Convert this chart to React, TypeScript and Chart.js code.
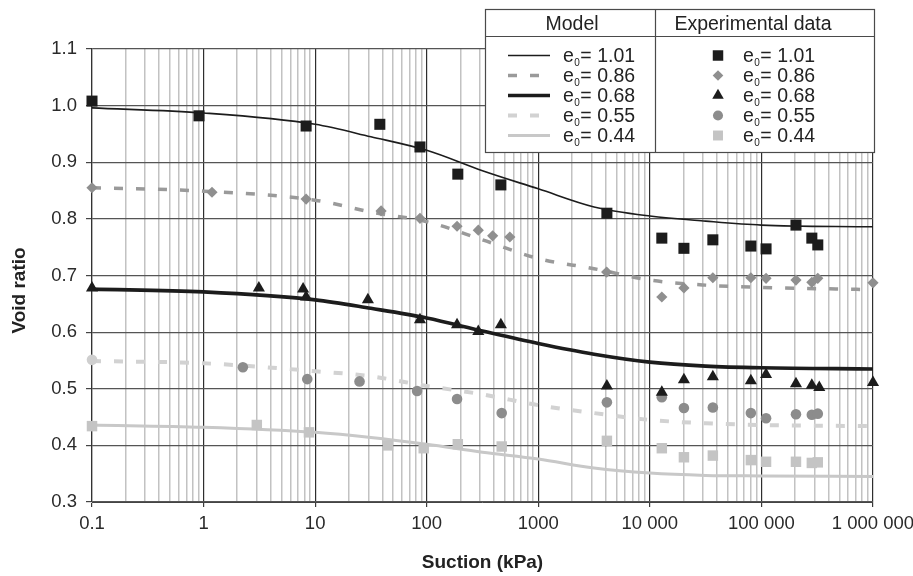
import React, { useEffect, useRef } from 'react';
import { Chart, registerables } from 'chart.js';

Chart.register(...registerables);

// ---------- data ----------
const initialVoidRatios = ['1.01', '0.86', '0.68', '0.55', '0.44'];

const modelSuction = [0.1, 1, 10, 31.6, 100, 316, 1000, 3162, 10000, 31623, 100000, 1000000];
const model101 = [0.996, 0.987, 0.967, 0.945, 0.921, 0.885, 0.853, 0.821, 0.805, 0.796, 0.789, 0.786];
const model086 = [0.855, 0.849, 0.833, 0.812, 0.795, 0.763, 0.730, 0.712, 0.692, 0.683, 0.679, 0.675];
const model068 = [0.676, 0.671, 0.657, 0.642, 0.625, 0.602, 0.580, 0.561, 0.547, 0.540, 0.537, 0.535];
const model055 = [0.549, 0.545, 0.531, 0.522, 0.505, 0.490, 0.471, 0.457, 0.445, 0.439, 0.436, 0.434];
const model044 = [0.436, 0.432, 0.423, 0.414, 0.402, 0.388, 0.376, 0.360, 0.351, 0.347, 0.346, 0.345];

const exp101X = [0.1, 0.91, 8.3, 38, 87, 190, 462, 4120, 12800, 20200, 36700, 80400, 110000, 204000, 283000, 320000];
const exp101Y = [1.008, 0.982, 0.964, 0.967, 0.927, 0.879, 0.86, 0.81, 0.766, 0.748, 0.763, 0.752, 0.747, 0.789, 0.766, 0.754];

const exp086X = [0.1, 1.19, 8.3, 39, 87, 187, 290, 390, 556, 4100, 12800, 20200, 36700, 80400, 110000, 204000, 283000, 320000, 1000000];
const exp086Y = [0.855, 0.847, 0.835, 0.814, 0.801, 0.787, 0.78, 0.77, 0.768, 0.706, 0.662, 0.678, 0.696, 0.696, 0.695, 0.692, 0.688, 0.695, 0.687];

const exp068X = [0.1, 3.13, 7.8, 8.3, 29.7, 87, 187, 290, 462, 4120, 12800, 20200, 36700, 80400, 110000, 204000, 283000, 330000, 1000000];
const exp068Y = [0.678, 0.678, 0.676, 0.662, 0.657, 0.622, 0.613, 0.601, 0.613, 0.505, 0.494, 0.516, 0.521, 0.514, 0.525, 0.509, 0.506, 0.502, 0.511];

const exp055X = [0.1, 2.25, 8.5, 25, 82, 187, 470, 4120, 12800, 20200, 36700, 80400, 110000, 204000, 283000, 320000];
const exp055Y = [0.551, 0.538, 0.517, 0.513, 0.496, 0.482, 0.457, 0.476, 0.485, 0.466, 0.467, 0.457, 0.448, 0.455, 0.454, 0.456];

const exp044X = [0.1, 3.0, 8.8, 45, 94, 190, 470, 4120, 12800, 20200, 36700, 80400, 110000, 204000, 283000, 320000];
const exp044Y = [0.434, 0.436, 0.423, 0.40, 0.395, 0.402, 0.398, 0.408, 0.395, 0.379, 0.382, 0.374, 0.371, 0.371, 0.369, 0.37];

const yTickValues = [0.3, 0.4, 0.5, 0.6, 0.7, 0.8, 0.9, 1.0, 1.1];

// ---------- styles ----------
const FONT = '"Liberation Sans", Arial, Helvetica, sans-serif';

const modelStyles = [
  { color: '#1c1c1c', width: 1.6, dash: [] as number[] },
  { color: '#9a9a9a', width: 3.5, dash: [9, 13] },
  { color: '#1c1c1c', width: 3.6, dash: [] as number[] },
  { color: '#d2d2d2', width: 4, dash: [9, 13] },
  { color: '#c8c8c8', width: 3, dash: [] as number[] },
];

const expStyles = [
  { shape: 'rect', color: '#1c1c1c', radius: 7.8 },
  { shape: 'rectRot', color: '#8f8f8f', radius: 5.6 },
  { shape: 'triangle', color: '#1c1c1c', radius: 7 },
  { shape: 'circle', color: '#8c8c8c', radius: 5.3 },
  { shape: 'rect', color: '#c4c4c4', radius: 7.4 },
];

const modelSeries = [model101, model086, model068, model055, model044];
const expSeries = [
  [exp101X, exp101Y],
  [exp086X, exp086Y],
  [exp068X, exp068Y],
  [exp055X, exp055Y],
  [exp044X, exp044Y],
];

function isMajor(v: number) {
  const l = Math.log10(v);
  return Math.abs(l - Math.round(l)) < 1e-6;
}

function fmtSuction(v: number) {
  if (v < 1) return String(Number(v.toPrecision(3)));
  const s = String(Math.round(v));
  if (s.length <= 4) return s;
  return s.replace(/\B(?=(\d{3})+(?!\d))/g, ' ');
}

function drawShape(ctx: CanvasRenderingContext2D, shape: string, x: number, y: number, r: number, color: string) {
  ctx.save();
  ctx.fillStyle = color;
  ctx.beginPath();
  if (shape === 'rect') {
    const s = Math.SQRT1_2 * r;
    ctx.rect(x - s, y - s, 2 * s, 2 * s);
  } else if (shape === 'rectRot') {
    ctx.moveTo(x, y - r);
    ctx.lineTo(x + r, y);
    ctx.lineTo(x, y + r);
    ctx.lineTo(x - r, y);
    ctx.closePath();
  } else if (shape === 'triangle') {
    let a = 0;
    ctx.moveTo(x + Math.sin(a) * r, y - Math.cos(a) * r);
    a += (2 * Math.PI) / 3;
    ctx.lineTo(x + Math.sin(a) * r, y - Math.cos(a) * r);
    a += (2 * Math.PI) / 3;
    ctx.lineTo(x + Math.sin(a) * r, y - Math.cos(a) * r);
    ctx.closePath();
  } else {
    ctx.arc(x, y, r, 0, Math.PI * 2);
  }
  ctx.fill();
  ctx.restore();
}

const overlayPlugin = {
  id: 'overlayPlugin',
  afterDraw(chart: any) {
    const ctx: CanvasRenderingContext2D = chart.ctx;
    const a = chart.chartArea;

    // y axis title
    ctx.save();
    ctx.translate(19.5, (a.top + a.bottom) / 2 + 15);
    ctx.rotate(-Math.PI / 2);
    ctx.font = `bold 19px ${FONT}`;
    ctx.fillStyle = '#222';
    ctx.textAlign = 'center';
    ctx.textBaseline = 'middle';
    ctx.fillText('Void ratio', 0, 0);
    ctx.restore();

    // legend table
    const R = a.right + 1;
    const L = R - 389;
    const T = a.top - 40;
    const B = T + 143;
    const H = T + 27;
    const C = L + 170;

    ctx.save();
    ctx.fillStyle = '#ffffff';
    ctx.fillRect(L, T, R - L, B - T);
    ctx.strokeStyle = '#4a4a4a';
    ctx.lineWidth = 1.2;
    ctx.strokeRect(L + 0.5, T + 0.5, R - L, B - T);
    ctx.beginPath();
    ctx.moveTo(L, H + 0.5);
    ctx.lineTo(R, H + 0.5);
    ctx.moveTo(C + 0.5, T);
    ctx.lineTo(C + 0.5, B);
    ctx.stroke();

    ctx.fillStyle = '#222';
    ctx.font = `19.5px ${FONT}`;
    ctx.textAlign = 'center';
    ctx.textBaseline = 'middle';
    ctx.fillText('Model', L + 87, T + 16);
    ctx.fillText('Experimental data', C + 98, T + 16);

    for (let i = 0; i < initialVoidRatios.length; i++) {
      const y = T + 46.5 + i * 20;
      const ms = modelStyles[i];
      ctx.save();
      ctx.strokeStyle = ms.color;
      ctx.lineWidth = ms.width;
      ctx.setLineDash(ms.dash);
      ctx.beginPath();
      ctx.moveTo(L + 23, y);
      ctx.lineTo(L + 65, y);
      ctx.stroke();
      ctx.restore();

      const es = expStyles[i];
      drawShape(ctx, es.shape, C + 63, y, es.radius * 0.95, es.color);

      for (const tx of [L + 78, C + 88]) {
        ctx.textAlign = 'left';
        ctx.textBaseline = 'middle';
        ctx.font = `19.5px ${FONT}`;
        ctx.fillStyle = '#222';
        ctx.fillText('e', tx, y + 1);
        const ew = ctx.measureText('e').width;
        ctx.font = `10px ${FONT}`;
        ctx.fillText('0', tx + ew + 0.5, y + 8);
        ctx.font = `19.5px ${FONT}`;
        ctx.fillText('= ' + initialVoidRatios[i], tx + ew + 6.5, y + 1);
      }
    }
    ctx.restore();
  },
};

export default function App() {
  const canvasRef = useRef<HTMLCanvasElement | null>(null);

  useEffect(() => {
    const canvas = canvasRef.current;
    if (!canvas) return;

    const datasets: any[] = [];
    expSeries.forEach(([xs, ys], i) => {
      const st = expStyles[i];
      datasets.push({
        type: 'scatter',
        label: 'Experimental e0 = ' + initialVoidRatios[i],
        data: xs.map((x, j) => ({ x, y: ys[j] })),
        pointStyle: st.shape,
        pointRadius: st.radius,
        pointBackgroundColor: i === 3 ? (c: any) => (c.dataIndex === 0 ? '#cfcfcf' : st.color) : st.color,
        pointBorderWidth: 0,
        borderWidth: 0,
        showLine: false,
        clip: false,
      });
    });
    modelSeries.forEach((ys, i) => {
      const st = modelStyles[i];
      datasets.push({
        type: 'line',
        label: 'Model e0 = ' + initialVoidRatios[i],
        data: modelSuction.map((x, j) => ({ x, y: ys[j] })),
        borderColor: st.color,
        borderWidth: st.width,
        borderDash: st.dash,
        pointRadius: 0,
        fill: false,
        cubicInterpolationMode: 'monotone',
      });
    });

    const chart = new Chart(canvas, {
      type: 'scatter',
      data: { datasets },
      options: {
        animation: false,
        responsive: false,
        devicePixelRatio: 1,
        layout: { padding: { left: 0, right: 40, top: 49, bottom: 0 } },
        plugins: {
          legend: { display: false },
          tooltip: { enabled: false },
        },
        scales: {
          x: {
            type: 'logarithmic',
            min: 0.1,
            max: 1000000,
            afterBuildTicks: (scale: any) => {
              const t: any[] = [];
              for (let k = -1; k <= 5; k++) {
                for (let m = 1; m <= 9; m++) {
                  t.push({ value: Number((m * Math.pow(10, k)).toPrecision(6)) });
                }
              }
              t.push({ value: 1000000 });
              scale.ticks = t;
            },
            afterFit: (scale: any) => {
              scale.height = 74;
              scale.paddingLeft = 0;
              scale.paddingRight = 0;
            },
            ticks: {
              autoSkip: false,
              maxRotation: 0,
              minRotation: 0,
              padding: 6,
              color: '#2a2a2a',
              font: { family: FONT, size: 18.5 },
              callback: (v: any) => (isMajor(Number(v)) ? fmtSuction(Number(v)) : ''),
            },
            grid: {
              color: (c: any) => (c.tick && isMajor(c.tick.value) ? '#2e2e2e' : '#c2c2c2'),
              lineWidth: (c: any) => (c.tick && isMajor(c.tick.value) ? 1.2 : 1.5),
              tickColor: (c: any) => (c.tick && isMajor(c.tick.value) ? '#3a3a3a' : 'rgba(0,0,0,0)'),
              tickLength: 5,
            },
            border: { color: '#444', width: 1 },
            title: {
              display: true,
              text: 'Suction (kPa)',
              color: '#222',
              font: { family: FONT, size: 19, weight: 'bold' },
              padding: { top: 0, bottom: 2 },
            },
          },
          y: {
            type: 'linear',
            min: 0.3,
            max: 1.1,
            afterBuildTicks: (scale: any) => {
              scale.ticks = yTickValues.map((v) => ({ value: v }));
            },
            afterFit: (scale: any) => {
              scale.width = 92;
            },
            ticks: {
              padding: 9,
              color: '#2a2a2a',
              font: { family: FONT, size: 18.5 },
              callback: (v: any) => Number(v).toFixed(1),
            },
            grid: {
              color: '#555555',
              tickColor: '#444',
              lineWidth: 1.2,
              tickLength: 6,
            },
            border: { color: '#333', width: 1.2 },
          },
        },
      } as any,
      plugins: [overlayPlugin],
    });

    return () => {
      chart.destroy();
    };
  }, []);

  return (
    <div style={{ position: 'fixed', left: 0, top: 0, width: 913, height: 576, background: '#fff' }}>
      <canvas ref={canvasRef} width={913} height={576} style={{ display: 'block', width: 913, height: 576 }} />
    </div>
  );
}
